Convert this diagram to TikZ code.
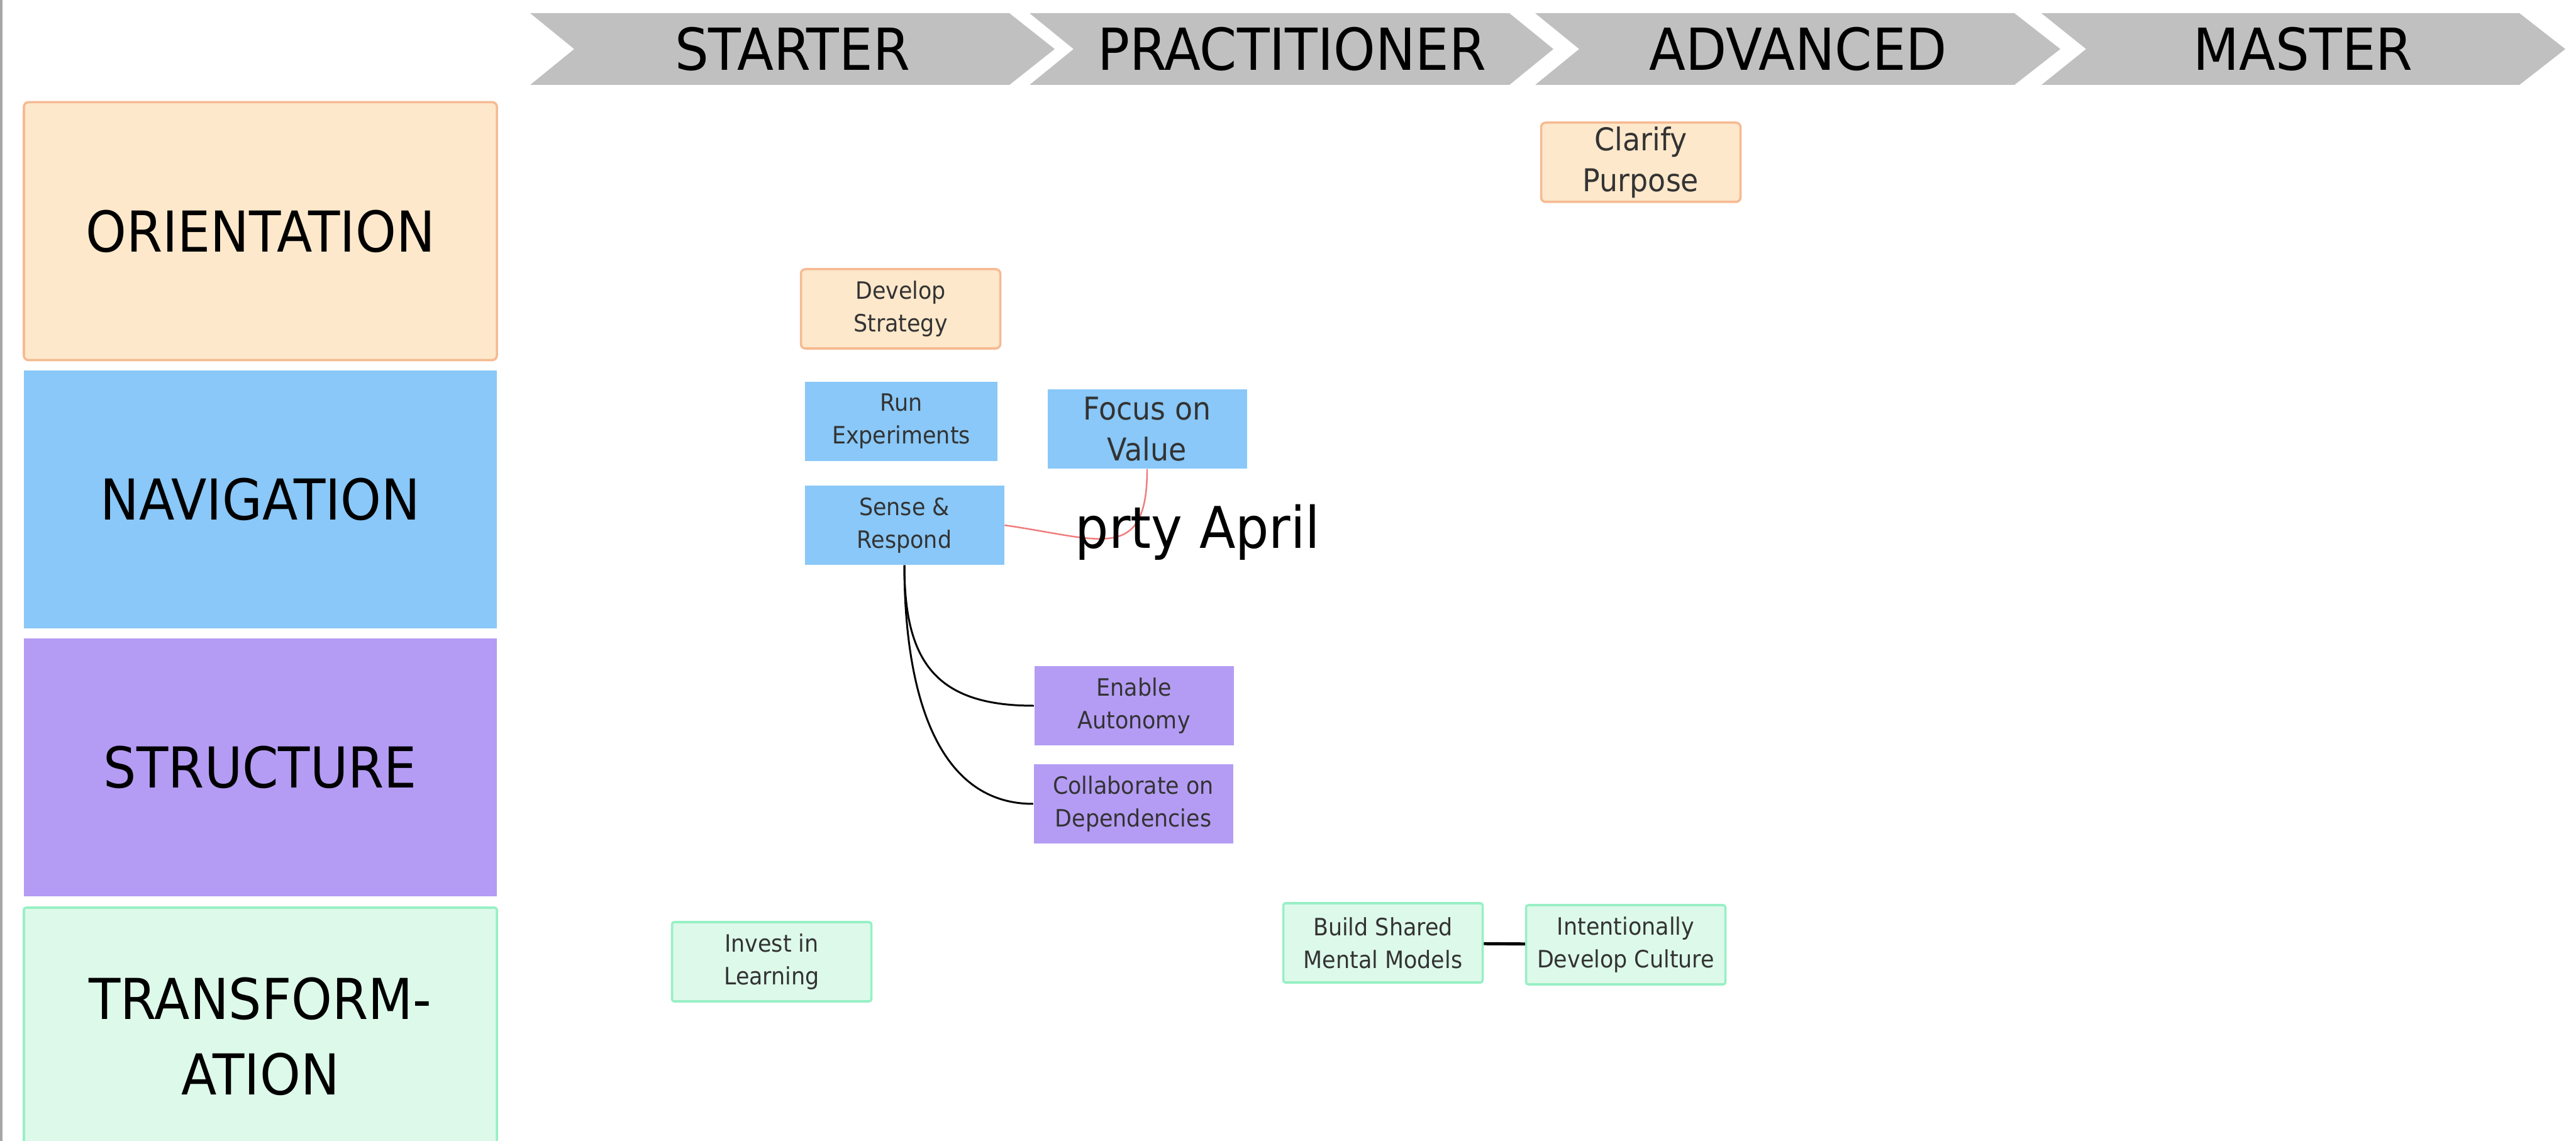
\documentclass[tikz,border=0pt]{standalone}
\usepackage{fontspec}
\setmainfont{DejaVu Sans}[FakeStretch=0.92]
\usepackage{xcolor}

\definecolor{peach}{HTML}{FDE8CB}
\definecolor{peachline}{HTML}{F6BA92}
\definecolor{navblue}{HTML}{89C8F8}
\definecolor{lilac}{HTML}{B49CF4}
\definecolor{mint}{HTML}{DDF9EA}
\definecolor{mintline}{HTML}{97F0C4}
\definecolor{chev}{HTML}{C0C0C0}
\definecolor{redline}{HTML}{F07C7C}

\begin{document}
\begin{tikzpicture}[align=center]
\tikzstyle{hd} = [font=\fontsize{26.2}{30}\selectfont]
\tikzstyle{row} = [minimum width=7.52cm, minimum height=4.10cm, inner sep=0pt, font=\fontsize{25.5}{34}\selectfont]
\tikzstyle{card} = [minimum width=3.17cm, minimum height=1.26cm, inner sep=0pt, text=black!80, font=\fontsize{10.8}{14.8}\selectfont]
\tikzstyle{bigcard} = [card, font=\fontsize{14.2}{18.5}\selectfont]
\tikzstyle{ob} = [fill=peach, draw=peachline, line width=1pt, rounded corners=2pt]
\tikzstyle{nb} = [fill=navblue]
\tikzstyle{sb} = [fill=lilac]
\tikzstyle{tb} = [fill=mint, draw=mintline, line width=1pt, rounded corners=1pt]
\tikzstyle{e} = [draw=black, line width=0.85pt]
\tikzstyle{er} = [draw=redline, line width=0.7pt]

\useasboundingbox (0,0) rectangle (40.96,-18.14);
\clip (0,0) rectangle (40.96,-18.14);
\draw[gray!70, line width=1.2pt] (0.02,0) -- (0.02,-18.14);

% stages
\fill[chev] (8.43,-0.21) -- (16.05,-0.21) -- (16.77,-0.78) -- (16.05,-1.35) -- (8.43,-1.35) -- (9.13,-0.78) -- cycle;
\fill[chev] (16.37,-0.21) -- (24.00,-0.21) -- (24.70,-0.78) -- (24.00,-1.35) -- (16.37,-1.35) -- (17.07,-0.78) -- cycle;
\fill[chev] (24.41,-0.21) -- (32.03,-0.21) -- (32.76,-0.78) -- (32.03,-1.35) -- (24.41,-1.35) -- (25.11,-0.78) -- cycle;
\fill[chev] (32.46,-0.21) -- (40.06,-0.21) -- (40.79,-0.78) -- (40.06,-1.35) -- (32.46,-1.35) -- (33.17,-0.78) -- cycle;
\node[hd](starter) at (12.60, -0.78) {STARTER};
\node[hd](practitioner) at (20.54, -0.78) {PRACTITIONER};
\node[hd](advanced) at (28.59, -0.78) {ADVANCED};
\node[hd](master) at (36.62, -0.78) {MASTER};

% dimensions
\node[row, ob](orientation) at (4.14, -3.675) {ORIENTATION};
\node[row, nb](navigation) at (4.14, -7.94) {NAVIGATION};
\node[row, sb](structure) at (4.14, -12.20) {STRUCTURE};
\node[row, tb](transformation) at (4.14, -16.48) {TRANSFORM-\\ATION};

% practices
\node[bigcard, ob](clarify) at (26.09, -2.58) {Clarify\\Purpose};
\node[card, ob](develop) at (14.32, -4.91) {Develop\\Strategy};
\node[card, nb, minimum width=3.06cm](run) at (14.33, -6.70) {Run\\Experiments};
\node[bigcard, nb](focus) at (18.24, -6.82) {Focus on\\Value};
\node[card, nb](sense) at (14.38, -8.35) {Sense \&\\Respond};
\node[card, sb](enable) at (18.03, -11.22) {Enable\\Autonomy};
\node[card, sb](collab) at (18.02, -12.78) {Collaborate on\\Dependencies};
\node[card, tb](invest) at (12.27, -15.29) {Invest in\\Learning};
\node[card, tb](build) at (21.99, -14.99) {Build Shared\\Mental Models};
\node[card, tb](intent) at (25.85, -15.02) {Intentionally\\Develop Culture};

\draw[er] (sense.east) to[out=-8, in=-90, looseness=1.6] (focus.south);
\node[anchor=base west, inner sep=0pt, font=\fontsize{26}{30}\selectfont](april) at (17.09, -8.72) {prty April};

\draw[e] (sense.south) to[out=-90, in=180, looseness=1.3] (enable.west);
\draw[e] (sense.south) to[out=-90, in=180] (collab.west);
\draw[e, line width=1.4pt] (build) -- (intent);
\end{tikzpicture}
\end{document}
